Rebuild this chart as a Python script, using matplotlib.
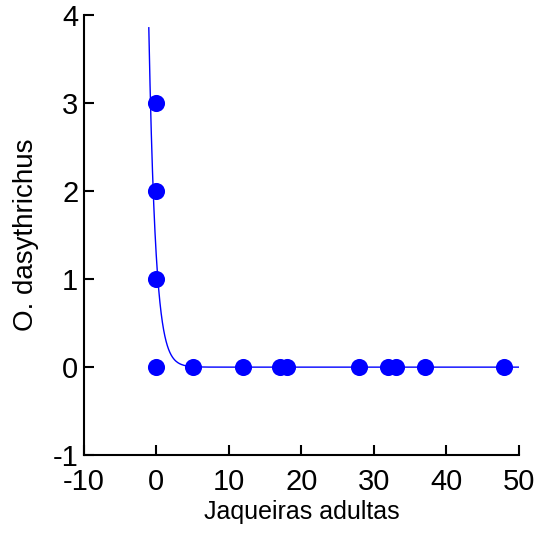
import numpy as np
import matplotlib.pyplot as plt

# Dados observados
jaqueiras = [0, 0, 0, 0, 5, 12, 17, 18, 28, 32, 33, 37, 48]
dasythrichus = [3, 2, 1, 0, 0, 0, 0, 0, 0, 0, 0, 0, 0]

# Parametros do ajuste exponencial y = a * exp(-b * x)
fit_a = 1.24
fit_b = 1.08
fit_x_min = -1.05
fit_x_max = 50

x_ticks = [-10, 0, 10, 20, 30, 40, 50]
y_ticks = [-1, 0, 1, 2, 3, 4]

plt.rcParams['font.family'] = ['Liberation Sans Narrow', 'Liberation Sans', 'DejaVu Sans']
plt.rcParams['axes.unicode_minus'] = False

fig = plt.figure(figsize=(5.45, 5.33), dpi=100)
ax = fig.add_axes([0.154, 0.146, 0.798, 0.826])

xc = np.linspace(fit_x_min, fit_x_max, 600)
yc = fit_a * np.exp(-fit_b * xc)
ax.plot(xc, yc, color='#0000ff', linewidth=1.0, zorder=2)
ax.plot(jaqueiras, dasythrichus, 'o', color='#0000ff', markersize=12.3,
        markeredgewidth=0, zorder=3)

ax.set_xlim(-10, 50)
ax.set_ylim(-1, 4)
ax.set_xticks(x_ticks)
ax.set_yticks(y_ticks)
ax.spines['top'].set_visible(False)
ax.spines['right'].set_visible(False)
ax.spines['left'].set_linewidth(1.5)
ax.spines['bottom'].set_linewidth(1.5)
ax.tick_params(direction='in', length=7, width=1.5, labelsize=21)
ax.tick_params(axis='x', pad=9)
ax.tick_params(axis='y', pad=4)

ax.set_xlabel('Jaqueiras adultas', fontsize=18, labelpad=3)
ax.set_ylabel('O. dasythrichus', fontsize=20, labelpad=10)

fig.savefig('out.png', dpi=100)
